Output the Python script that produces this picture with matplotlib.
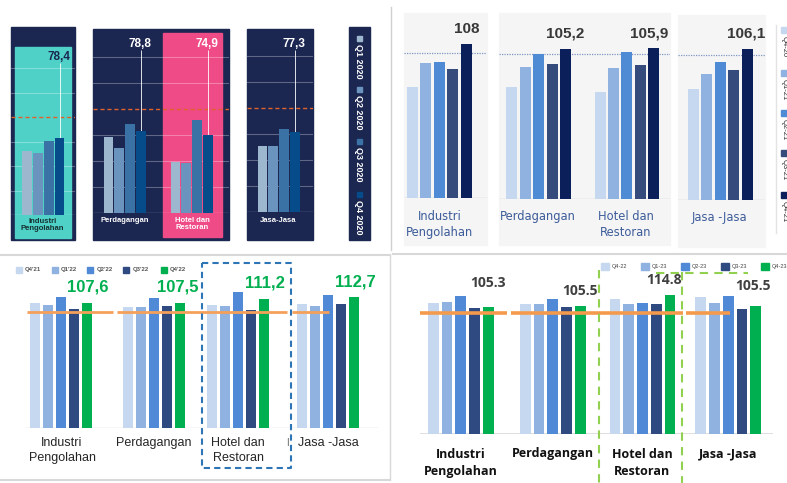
import numpy as np
import matplotlib
matplotlib.use("Agg")
import matplotlib.pyplot as plt
from matplotlib.patches import Rectangle
from matplotlib.lines import Line2D

plt.rcParams['font.family'] = ['Liberation Sans', 'DejaVu Sans']

# ---- data ----
# panel 1: 2020
seri_2020 = ['Q1 2020', 'Q2 2020', 'Q3 2020', 'Q4 2020']
ind_2020 = [65.2, 63.1, 75.4, 78.4]
dag_2020 = [72.8, 62.8, 85.3, 78.8]
hot_2020 = [49.3, 47.8, 89.4, 74.9]
jas_2020 = [64.0, 64.0, 80.1, 77.3]
lbl_2020 = ['78,4', '78,8', '74,9', '77,3']

# panel 2: 2021
seri_2021 = ['Q4-20', 'Q1-21', 'Q2-21', 'Q3-21', 'Q4-21']
ind_2021 = [78.1, 94.5, 95.2, 90.5, 108.0]
dag_2021 = [78.9, 92.5, 101.7, 94.7, 105.2]
hot_2021 = [75.0, 92.1, 103.1, 94.2, 105.9]
jas_2021 = [77.6, 88.1, 96.8, 90.9, 106.1]
lbl_2021 = ['108', '105,2', '105,9', '106,1']

# panel 3: 2022
seri_2022 = ["Q4'21", "Q1'22", "Q2'22", "Q3'22", "Q4'22"]
ind_2022 = [108.1, 106.1, 113.3, 102.9, 107.6]
dag_2022 = [104.7, 104.7, 112.2, 105.3, 107.5]
hot_2022 = [105.9, 105.3, 117.1, 101.8, 111.2]
jas_2022 = [106.7, 105.0, 114.8, 106.7, 112.7]
lbl_2022 = ['107,6', '107,5', '111,2', '112,7']

# panel 4: 2023
seri_2023 = ['Q4-22', 'Q1-23', 'Q2-23', 'Q3-23', 'Q4-23']
ind_2023 = [108.1, 108.9, 114.1, 104.0, 105.3]
dag_2023 = [107.5, 107.5, 111.4, 105.3, 105.5]
hot_2023 = [111.4, 107.3, 108.6, 107.3, 114.8]
jas_2023 = [113.6, 108.1, 114.4, 103.4, 105.5]
lbl_2023 = ['105.3', '105.5', '114.8', '105.5']

W, H = 787, 483
fig = plt.figure(figsize=(W / 100, H / 100), dpi=100)
fig.patch.set_facecolor('white')


# helpers working in pixel units of the picture
def rect_px(x0, y0, x1, y1, z=-1, **kw):
    fig.patches.append(Rectangle((x0 / W, 1 - y1 / H), (x1 - x0) / W, (y1 - y0) / H,
                                 transform=fig.transFigure, zorder=z, **kw))


def ftext(x, y, s, **kw):
    fig.text(x / W, 1 - y / H, s, **kw)


def fline(xs, ys, **kw):
    fig.add_artist(Line2D([x / W for x in xs], [1 - y / H for y in ys],
                          transform=fig.transFigure, **kw))


def bar_ax(x0, x1, top, base, scale):
    ax = fig.add_axes([x0 / W, 1 - base / H, (x1 - x0) / W, (base - top) / H])
    ax.set_xlim(x0, x1)
    ax.set_ylim(0, (base - top) / scale)
    ax.axis('off')
    ax.patch.set_alpha(0)
    return ax


# ================= 2020 (dark panels) =================
navy = '#1b2651'
c2020 = ['#9db7cf', '#6a94bd', '#3b72a6', '#064c8a']
rect_px(10.7, 27, 75, 240, z=-2, color=navy)
rect_px(93, 29, 229, 240, z=-2, color=navy)
rect_px(247, 29, 313, 240, z=-2, color=navy)
rect_px(15, 47, 71, 238, color='#4fd1c8')
rect_px(163, 33, 222, 237, color='#ef4b86')

panels_2020 = [
    # x0, x1, top, base, scale, [(values, start, label, label_col, label_y)]
    (10.7, 75, 27, 215, 0.98, [(ind_2020, 27.0, lbl_2020[0], navy, 57)]),
    (93, 229, 29, 213, 1.04, [(dag_2020, 108.3, lbl_2020[1], 'white', 44),
                              (hot_2020, 175.3, lbl_2020[2], 'white', 44)]),
    (247, 313, 29, 212.3, 1.04, [(jas_2020, 262.3, lbl_2020[3], 'white', 44)]),
]
for x0, x1, top, base, sc, groups in panels_2020:
    ax = bar_ax(x0, x1, top, base, sc)
    for v in [25, 50, 75, 125, 150]:
        ax.axhline(v, color='white', alpha=0.3, lw=0.8)
    ax.axhline(0, color='white', alpha=0.55, lw=0.9)
    ax.axhline(100, color='#e0622b', lw=1.0, ls=(0, (3, 2)))
    for vals, start, lab, lc, ly in groups:
        xs = start + np.arange(len(vals)) * 10.9
        ax.bar(xs, vals, width=9.5, color=c2020, zorder=3)
        ytop = (base - ly - 6) / sc
        ax.vlines(xs[-1], vals[-1], ytop, color='white', lw=0.6, zorder=2)
        ftext(xs[-1] - 1, ly, lab, color=lc, fontsize=8.5, fontweight='bold',
              ha='center', va='center')

ftext(42.7, 225, 'Industri\nPengolahan', color='#15302f', fontsize=5.5,
      fontweight='bold', ha='center', va='center', linespacing=1.1)
ftext(125, 220, 'Perdagangan', color='white', fontsize=5.5, fontweight='bold',
      ha='center', va='center')
ftext(192, 224, 'Hotel dan\nRestoran', color='white', fontsize=5.5,
      fontweight='bold', ha='center', va='center', linespacing=1.1)
ftext(278, 220, 'Jasa-Jasa', color='white', fontsize=5.5, fontweight='bold',
      ha='center', va='center')

# legend strip
rect_px(349, 27, 370, 240, z=-2, color=navy)
for i, (name, col) in enumerate(zip(seri_2020, c2020)):
    y = [36, 87, 139, 192][i]
    rect_px(356.5, y, 361.5, y + 5, color=col)
    ftext(359, y + 8, name, color='white', fontsize=6.5, fontweight='bold',
          rotation=270, ha='center', va='top')

fline([391, 391], [7, 250], color='#d0d0d0', lw=1)

# ================= 2021 (light panels) =================
c2021 = ['#c5d8ef', '#8fb2e1', '#4f8bd5', '#354b7c', '#0b1f5b']
for x0, y0, x1, y1 in [(404, 13, 487, 245), (499, 13, 670, 245), (678, 15, 765, 247)]:
    rect_px(x0, y0, x1, y1, color='#f5f5f6')

panels_2021 = [
    (404, 487, 13, 198, 1.426, [(ind_2021, 412.5)]),
    (499, 670, 13, 199, 1.423, [(dag_2021, 511.7), (hot_2021, 600.0)]),
    (678, 765, 15, 200, 1.426, [(jas_2021, 693.3)]),
]
for x0, x1, top, base, sc, groups in panels_2021:
    ax = bar_ax(x0, x1, top, base, sc)
    ax.axhline(0, color='#cfcfcf', lw=1)
    ax.axhline(102, color='#8096c0', lw=0.9, ls=(0, (1, 1)))
    for vals, start in groups:
        xs = start + np.arange(len(vals)) * 13.45
        ax.bar(xs, vals, width=11, color=c2021, zorder=3)

for (x, y), lab in zip([(467, 29), (565.5, 34), (649, 34), (746, 34)], lbl_2021):
    ftext(x, y, lab, color='#383838', fontsize=11, fontweight='bold',
          ha='center', va='center')

cat_blue = '#3d5c99'
ftext(439.7, 224.5, 'Industri\nPengolahan', color=cat_blue, fontsize=8.3,
      family='DejaVu Sans', ha='center', va='center', linespacing=1.3)
ftext(538, 216.7, 'Perdagangan', color=cat_blue, fontsize=8.3,
      family='DejaVu Sans', ha='center', va='center')
ftext(625.7, 224.5, 'Hotel dan\nRestoran', color=cat_blue, fontsize=8.3,
      family='DejaVu Sans', ha='center', va='center', linespacing=1.3)
ftext(719.7, 218, 'Jasa -Jasa', color=cat_blue, fontsize=8.3,
      family='DejaVu Sans', ha='center', va='center')

fline([776, 776], [25, 233], color='#e3e3e3', lw=1)
for i, (name, col) in enumerate(zip(seri_2021, c2021)):
    y = [27, 70, 110, 150, 192][i]
    rect_px(781, y, 787, y + 6, color=col)
    ftext(784, y + 9, name, color='#333333', fontsize=5.5, rotation=270,
          ha='center', va='top')

# ================= 2022 =================
c2022 = ['#c5d8ef', '#8fb2e1', '#5089d6', '#2f4a80', '#00b050']
fline([0, 390], [255, 255], color='#d8d8d8', lw=1.5)
fline([0, 390], [480, 480], color='#d8d8d8', lw=1.5)
fline([390, 390], [255, 480], color='#d8d8d8', lw=1)

ax = bar_ax(0, 393, 258, 428, 1.159)
ax.hlines(0, 25, 378, color='#d9d9d9', lw=1)
for vals, start in zip([ind_2022, dag_2022, hot_2022, jas_2022], [35, 127.7, 212.3, 302.3]):
    xs = start + np.arange(len(vals)) * 13.0
    ax.bar(xs, vals, width=10, color=c2022, zorder=2)
ax.hlines([100, 100, 100], [27.3, 117.3, 292], [113.3, 286.7, 329.3],
          color='#f5a05a', lw=2, zorder=4)

for (x, y), lab in zip([(88, 287.5), (177.5, 287.5), (265, 283), (355, 282)], lbl_2022):
    ftext(x, y, lab, color='#00b050', fontsize=12, fontweight='bold',
          ha='center', va='center')

for name, col, x in zip(seri_2022, c2022, [16, 51.7, 87.3, 123.3, 161]):
    rect_px(x, 266.7, x + 6, 272.7, color=col)
    ftext(x + 9, 269.7, name, color='#555555', fontsize=4.3, fontweight='bold',
          ha='left', va='center')

ftext(62, 450.5, 'Industri\nPengolahan', color='#262626', fontsize=9,
      ha='center', va='center', linespacing=1.25)
ftext(154, 443, 'Perdagangan', color='#262626', fontsize=9, ha='center', va='center')
ftext(238, 450.5, 'Hotel dan\nRestoran', color='#262626', fontsize=9,
      ha='center', va='center', linespacing=1.25)
ftext(328, 443, 'Jasa -Jasa', color='#262626', fontsize=9, ha='center', va='center')
ftext(287, 443, 'I', color='#666666', fontsize=7, ha='center', va='center')

fline([202, 291, 291, 202, 202], [263, 263, 468, 468, 263], color='#2e75b6',
      lw=1.5, ls=(0, (3, 2)))

# ================= 2023 =================
c2023 = ['#c5d8ef', '#8fb2e1', '#5089d6', '#2f4a80', '#00b050']
fline([393, 787], [254, 254], color='#d8d8d8', lw=1.5)

ax = bar_ax(393, 787, 258, 434, 1.209)
ax.hlines(0, 420, 773, color='#d9d9d9', lw=1.2)
for vals, start in zip([ind_2023, dag_2023, hot_2023, jas_2023], [433.3, 525.3, 615, 700.8]):
    xs = start + np.arange(len(vals)) * 13.75
    ax.bar(xs, vals, width=10.7, color=c2023, zorder=2)
ax.hlines([100, 100, 100], [419.7, 511.3, 686.3], [507.3, 683, 729.7],
          color='#f49a4c', lw=2.6, zorder=4)

for (x, y), lab in zip([(488, 283), (580, 291), (664.5, 280), (753, 286.5)], lbl_2023):
    ftext(x, y, lab, color='#404040', fontsize=10, fontweight='bold',
          family='Open Sans', ha='center', va='center')

for name, col, x in zip(seri_2023, c2023, [601.3, 641.3, 681.3, 721.3, 761.3]):
    rect_px(x, 263.3, x + 8, 270.3, color=col)
    ftext(x + 10, 266.8, name, color='#444444', fontsize=4, ha='left', va='center')

ftext(461, 463, 'Industri\nPengolahan', color='#111111', fontsize=9, fontweight='bold',
      family='Open Sans', ha='center', va='center', linespacing=1.35)
ftext(553, 454, 'Perdagangan', color='#111111', fontsize=9, fontweight='bold',
      family='Open Sans', ha='center', va='center')
ftext(642, 463, 'Hotel dan\nRestoran', color='#111111', fontsize=9, fontweight='bold',
      family='Open Sans', ha='center', va='center', linespacing=1.35)
ftext(728, 454, 'Jasa -Jasa', color='#111111', fontsize=9, fontweight='bold',
      family='Open Sans', ha='center', va='center')

green_dash = dict(color='#92d050', lw=1.5, ls=(0, (4, 3)))
fline([599, 599], [270, 483], **green_dash)
fline([682, 682], [272, 483], **green_dash)
fline([656, 748], [273, 273], **green_dash)

fig.savefig('out.png', dpi=100)
